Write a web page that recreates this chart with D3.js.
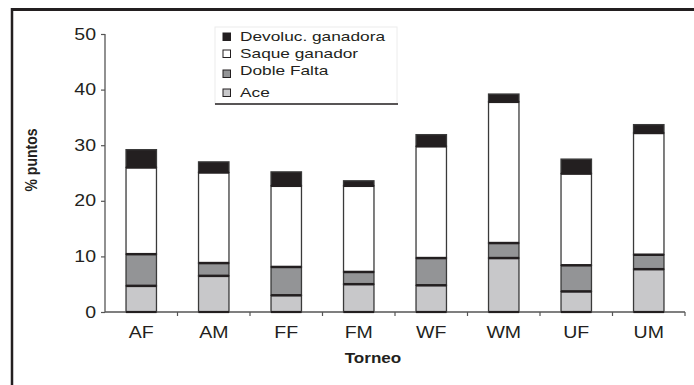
<!DOCTYPE html>
<html><head><meta charset="utf-8">
<script src="https://cdn.jsdelivr.net/npm/d3@7"></script>
<style>body{margin:0;background:#fff}svg{display:block;font-family:"Liberation Sans",Arial,sans-serif}</style>
</head><body>
<script>
const categories = ["AF","AM","FF","FM","WF","WM","UF","UM"];
const ace      = [4.7, 6.5, 3.0, 5.0, 4.8, 9.7, 3.7, 7.7];
const dobleFalta = [5.7, 2.3, 5.1, 2.2, 4.9, 2.7, 4.7, 2.6];
const saque    = [15.6, 16.3, 14.6, 15.5, 20.1, 25.4, 16.5, 21.9];
const devoluc  = [3.2, 1.9, 2.5, 0.9, 2.1, 1.4, 2.6, 1.5];
const seriesNames = ["Ace","Doble Falta","Saque ganador","Devoluc. ganadora"];
const legendOrder = ["Devoluc. ganadora","Saque ganador","Doble Falta","Ace"];
const yTicks = [0,10,20,30,40,50];

const W=694,H=385, SX=1.22;
const svg=d3.select("body").append("svg").attr("width",W).attr("height",H);
function stretch(sel,k){ k=k||SX; sel.each(function(){ const L=this.getComputedTextLength(); this.setAttribute("textLength",L*k); this.setAttribute("lengthAdjust","spacingAndGlyphs"); }); }

// frame
svg.append("line").attr("x1",11).attr("x2",W).attr("y1",9.5).attr("y2",9.5).attr("stroke","#231f20").attr("stroke-width",3);
svg.append("line").attr("x1",12).attr("x2",12).attr("y1",8).attr("y2",H).attr("stroke","#231f20").attr("stroke-width",2.5);

const m={l:105,r:685,t:34,b:312};
const x=d3.scaleBand().domain(categories).range([m.l,m.r]).paddingInner(0.58).paddingOuter(0.29);
const y=d3.scaleLinear().domain([0,50]).range([m.b,m.t]);

const rows=categories.map((c,i)=>({cat:c,"Ace":ace[i],"Doble Falta":dobleFalta[i],"Saque ganador":saque[i],"Devoluc. ganadora":devoluc[i]}));
const stack=d3.stack().keys(seriesNames)(rows);
const colors={"Ace":"#c8c8ca","Doble Falta":"#939496","Saque ganador":"#ffffff","Devoluc. ganadora":"#231f20"};

stack.forEach(s=>{
  svg.append("g").selectAll("rect").data(s).join("rect")
   .attr("x",d=>x(d.data.cat)).attr("width",x.bandwidth())
   .attr("y",d=>y(d[1])).attr("height",d=>y(d[0])-y(d[1]))
   .attr("fill",colors[s.key]).attr("stroke","#3a3a3a").attr("stroke-width",1.3);
});
stack.slice(0,3).forEach(s=>{
  svg.append("g").selectAll("line").data(s).join("line")
   .attr("x1",d=>x(d.data.cat)).attr("x2",d=>x(d.data.cat)+x.bandwidth())
   .attr("y1",d=>y(d[1])).attr("y2",d=>y(d[1]))
   .attr("stroke","#231f20").attr("stroke-width",2.5);
});

// axes
const ya=svg.append("g").attr("transform",`translate(${m.l},0)`)
  .call(d3.axisLeft(y).tickValues(yTicks).tickSize(4).tickPadding(5));
const xa=svg.append("g").attr("transform",`translate(0,${m.b})`)
  .call(d3.axisBottom(x).tickSize(0).tickPadding(15));
[ya,xa].forEach(a=>{a.select(".domain").attr("stroke","#555").attr("stroke-width",1.3);
  a.selectAll("text").attr("font-family","Liberation Sans, Arial, sans-serif").attr("font-size",16).attr("fill","#231f20");
  a.selectAll(".tick line").attr("stroke","#555").attr("stroke-width",1.2);});
ya.select(".domain").attr("d",`M-0,${m.t}H0V${m.b}`);
xa.select(".domain").attr("d",`M${m.l},0H${m.r}`);
stretch(ya.selectAll("text")); stretch(xa.selectAll("text"));
// baseline
svg.append("g").selectAll("line").data(categories).join("line")
  .attr("x1",d=>x(d)).attr("x2",d=>x(d)+x.bandwidth()).attr("y1",m.b).attr("y2",m.b)
  .attr("stroke","#231f20").attr("stroke-width",2.2);
// x ticks at band boundaries
const bounds=categories.map(c=>x(c)-x.step()*x.paddingInner()/2).concat([m.r]);
xa.selectAll(".bt").data(bounds.slice(1)).join("line").attr("class","bt")
  .attr("x1",d=>d).attr("x2",d=>d).attr("y1",0).attr("y2",4).attr("stroke","#555").attr("stroke-width",1.2);

svg.append("text").attr("x",373).attr("y",363).attr("text-anchor","middle")
  .attr("font-weight","bold").attr("font-size",14).attr("fill","#231f20").text("Torneo").call(stretch);
svg.append("text").attr("transform","translate(37,160) rotate(-90) scale(1,1.22)").attr("text-anchor","middle")
  .attr("font-weight","bold").attr("font-size",14).attr("fill","#231f20").text("% puntos");

// legend
const lg=svg.append("g");
lg.append("rect").attr("x",215).attr("y",27).attr("width",182).attr("height",77).attr("fill","#fff").attr("stroke","#ececec");
lg.append("line").attr("x1",215).attr("x2",398).attr("y1",104).attr("y2",104).attr("stroke","#231f20").attr("stroke-width",1.3);
const legBase=[40.5,57.5,75,96.5], swY=[33,50,70,89];
const legTexts=[];
legendOrder.forEach((k,i)=>{
  lg.append("rect").attr("x",223).attr("y",swY[i]).attr("width",7.5).attr("height",7.5)
    .attr("fill",colors[k]).attr("stroke","#231f20").attr("stroke-width",1);
  legTexts.push(lg.append("text").attr("x",240).attr("y",legBase[i]).attr("font-size",13).attr("fill","#231f20").text(k));
});
const kLeg=145/legTexts[0].node().getComputedTextLength();
legTexts.forEach(t=>stretch(t,kLeg));
</script>
</body></html>
